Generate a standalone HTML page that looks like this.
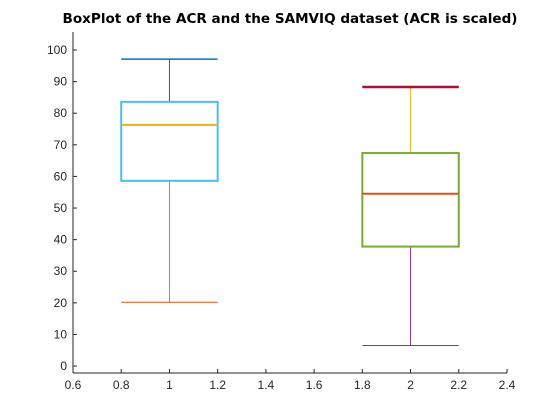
<!DOCTYPE html>
<html><head><meta charset="utf-8"><style>
html,body{margin:0;padding:0;background:#fff;}
svg{display:block;font-family:"Liberation Sans",sans-serif;}
</style></head><body>
<svg id="chart" width="560" height="420" viewBox="0 0 560 420">
<text x="290" y="23" text-anchor="middle" font-size="13.5" font-weight="bold" fill="#000" textLength="455" lengthAdjust="spacingAndGlyphs" style="font-family:'DejaVu Sans',sans-serif">BoxPlot of the ACR and the SAMVIQ dataset (ACR is scaled)</text>
<g id="axes"></g>
<g id="marks"></g>
</svg>
<script>
const categories = [1, 2];
const whiskerLow = [20.2, 6.5];
const q1 = [58.6, 37.8];
const medians = [76.3, 54.5];
const q3 = [83.6, 67.4];
const whiskerHigh = [97.1, 88.3];
const xTicks = [0.6, 0.8, 1, 1.2, 1.4, 1.6, 1.8, 2, 2.2, 2.4];
const yTicks = [0, 10, 20, 30, 40, 50, 60, 70, 80, 90, 100];

const NS = "http://www.w3.org/2000/svg";
const X0 = 73, X1 = 507, Y0 = 373, Y1 = 32;
const xMin = 0.6, xMax = 2.4, yMin = -2.2, yMax = 105.7;
function xs(v){ return X0 + (v - xMin) / (xMax - xMin) * (X1 - X0); }
function ys(v){ return Y0 - (v - yMin) / (yMax - yMin) * (Y0 - Y1); }
function el(tag, attrs, parent){ const e = document.createElementNS(NS, tag); for (const k in attrs) e.setAttribute(k, attrs[k]); parent.appendChild(e); return e; }

const axes = document.getElementById('axes');
const marks = document.getElementById('marks');
let a = el('line', {x1:X0, y1:Y0, x2:X1, y2:Y0, stroke:'#262626', 'stroke-width':1}, axes);


a = el('line', {x1:X0, y1:Y0, x2:X0, y2:Y1, stroke:'#262626', 'stroke-width':1}, axes);


xTicks.forEach(t => {
  const x = xs(t);
  const tk = el('line', {x1:x, y1:Y0, x2:x, y2:Y0-4, stroke:'#262626'}, axes);
  
  
  const tx = el('text', {x:x, y:Y0+16, 'text-anchor':'middle', 'font-size':12, fill:'#262626'}, axes);
  tx.textContent = String(t);
  
  
});
yTicks.forEach(t => {
  const y = ys(t);
  const tk = el('line', {x1:X0, y1:y, x2:X0+4, y2:y, stroke:'#262626'}, axes);
  
  
  const tx = el('text', {x:X0-6, y:y+4, 'text-anchor':'end', 'font-size':12, fill:'#262626'}, axes);
  tx.textContent = String(t);
  
  
});

const styles = [
  {box:'#4DBEEE', med:'#EDB120', upLine:'#7E2F8E', upCap:'#0072BD', upCapW:1.5, loLine:'#77AC30', loCap:'#D95319', boxW:2},
  {box:'#77AC30', med:'#D95319', upLine:'#EDB120', upCap:'#A2142F', upCapW:2.5, loLine:'#7E2F8E', loCap:'#0072BD', boxW:2}
];
categories.forEach((c, i) => {
  const s = styles[i];
  const xl = xs(c - 0.2), xr = xs(c + 0.2), xc = xs(c);
  let e = el('line', {x1:xc, y1:ys(q3[i]), x2:xc, y2:ys(whiskerHigh[i]), stroke:s.upLine, 'stroke-width':1}, marks);
  
  
  e = el('line', {x1:xc, y1:ys(q1[i]), x2:xc, y2:ys(whiskerLow[i]), stroke:s.loLine, 'stroke-width':1}, marks);
  
  
  e = el('line', {x1:xl, y1:ys(whiskerHigh[i]), x2:xr, y2:ys(whiskerHigh[i]), stroke:s.upCap, 'stroke-width':s.upCapW}, marks);
  
  
  e = el('line', {x1:xl, y1:ys(whiskerLow[i]), x2:xr, y2:ys(whiskerLow[i]), stroke:s.loCap, 'stroke-width':1}, marks);
  
  
  e = el('rect', {x:xl, y:ys(q3[i]), width:xr-xl, height:ys(q1[i])-ys(q3[i]), fill:'none', stroke:s.box, 'stroke-width':s.boxW}, marks);
  
  
  e = el('line', {x1:xl, y1:ys(medians[i]), x2:xr, y2:ys(medians[i]), stroke:s.med, 'stroke-width':2}, marks);
  
  
});
</script>
</body></html>
